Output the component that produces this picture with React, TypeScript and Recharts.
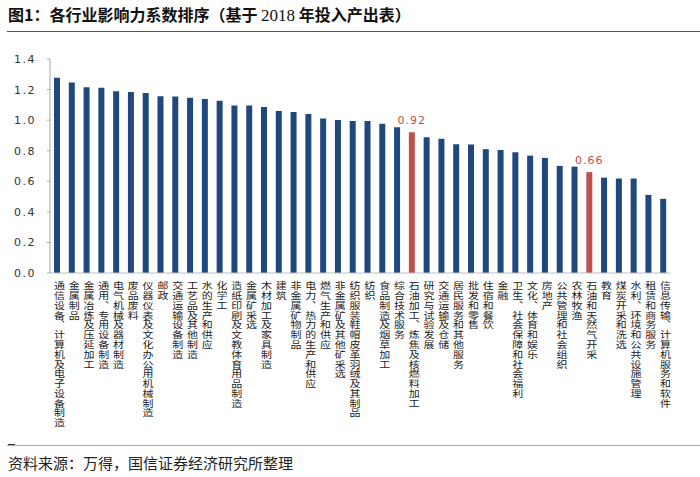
import React from "react";
import { BarChart, Bar, XAxis, YAxis, Cell, LabelList } from "recharts";

const categories = [
  "通信设备、计算机及电子设备制造",
  "金属制品",
  "金属冶炼及压延加工",
  "通用、专用设备制造",
  "电气机械及器材制造",
  "废品废料",
  "仪器仪表及文化办公用机械制造",
  "邮政",
  "交通运输设备制造",
  "工艺品及其他制造",
  "水的生产和供应",
  "化学工",
  "造纸印刷及文教体育用品制造",
  "金属矿采选",
  "木材加工及家具制造",
  "建筑",
  "非金属矿物制品",
  "电力、热力的生产和供应",
  "燃气生产和供应",
  "非金属矿及其他矿采选",
  "纺织服装鞋帽皮革羽绒及其制品",
  "纺织",
  "食品制造及烟草加工",
  "综合技术服务",
  "石油加工、炼焦及核燃料加工",
  "研究与试验发展",
  "交通运输及仓储",
  "居民服务和其他服务",
  "批发和零售",
  "住宿和餐饮",
  "金融",
  "卫生、社会保障和社会福利",
  "文化、体育和娱乐",
  "房地产",
  "公共管理和社会组织",
  "农林牧渔",
  "石油和天然气开采",
  "教育",
  "煤炭开采和洗选",
  "水利、环境和公共设施管理",
  "租赁和商务服务",
  "信息传输、计算机服务和软件",
];

const values = [
  1.278, 1.247, 1.215, 1.212, 1.189, 1.184, 1.178, 1.156, 1.154, 1.147,
  1.139, 1.127, 1.095, 1.095, 1.086, 1.06, 1.054, 1.041, 1.01, 1.001,
  0.995, 0.995, 0.977, 0.953, 0.92, 0.888, 0.879, 0.843, 0.84, 0.81,
  0.805, 0.79, 0.768, 0.753, 0.701, 0.696, 0.66, 0.624, 0.618, 0.618,
  0.511, 0.485,
];

const highlighted = ["石油加工、炼焦及核燃料加工", "石油和天然气开采"];

const yTicks = [0, 0.2, 0.4, 0.6, 0.8, 1.0, 1.2, 1.4];

const titleBefore = "图1：各行业影响力系数排序（基于 ";
const titleYear = "2018";
const titleAfter = " 年投入产出表）";
const sourceText = "资料来源：万得，国信证券经济研究所整理";

const BLUE = "#1f497d";
const RED = "#c0504d";
const CJK = "'Noto Sans CJK SC', 'Noto Sans', sans-serif";

const data = categories.map((name, i) => ({ name, value: values[i] }));

const XTick = (props: any) => {
  const { x, y, payload } = props;
  return (
    <text
      transform={`translate(${x + 2},${y + 8.5}) scale(1.22,1)`}
      x={0}
      y={0}
      fontSize={9}
      letterSpacing={0.77}
      fill="#222"
      fontFamily={CJK}
      style={{ writingMode: "vertical-rl" } as any}
    >
      {String(payload.value)}
    </text>
  );
};

const YTick = (props: any) => {
  const { y, payload } = props;
  return (
    <text
      x={36}
      y={y + 4}
      textAnchor="end"
      fontSize={11}
      fill="#333"
      letterSpacing={1.5}
      fontFamily="'DejaVu Sans', sans-serif"
    >
      {Number(payload.value).toFixed(1)}
    </text>
  );
};

const HighlightLabel = (props: any) => {
  const { x, y, width, value, index } = props;
  if (!highlighted.includes(categories[index])) return null;
  return (
    <text
      x={x + width / 2}
      y={y - 8}
      textAnchor="middle"
      fontSize={11}
      fill={RED}
      letterSpacing={1}
      fontFamily="'DejaVu Sans', sans-serif"
    >
      {Number(value).toFixed(2)}
    </text>
  );
};

export default function App() {
  return (
    <div
      style={{
        position: "absolute",
        left: 0,
        top: 0,
        width: 700,
        height: 477,
        background: "#fff",
        overflow: "hidden",
      }}
    >
      <div
        style={{
          position: "absolute",
          left: 8,
          top: 3,
          fontSize: 16,
          fontFamily: CJK,
          fontWeight: 700,
          color: "#111",
          whiteSpace: "nowrap",
          lineHeight: "22px",
        }}
      >
        {titleBefore}
        <span style={{ fontFamily: "'Liberation Serif', serif", fontWeight: 400, fontSize: 17 }}>
          {titleYear}
        </span>
        {titleAfter}
      </div>
      <div
        style={{
          position: "absolute",
          left: 7,
          top: 31,
          width: 693,
          height: 0,
          borderTop: "1.5px solid #555",
        }}
      />
      <div style={{ position: "absolute", left: 0, top: 0 }}>
        <BarChart
          width={700}
          height={477}
          data={data}
          margin={{ top: 59, right: 29, bottom: 0, left: 0 }}
          barSize={6}
        >
          <XAxis
            dataKey="name"
            interval={0}
            tick={<XTick />}
            tickLine={false}
            tickSize={0}
            tickMargin={0}
            height={204}
            axisLine={{ stroke: "#bfbfbf" }}
          />
          <YAxis
            domain={[0, 1.4]}
            ticks={yTicks}
            width={50}
            tick={<YTick />}
            tickSize={3}
            tickLine={{ stroke: "#a6a6a6" }}
            axisLine={{ stroke: "#a6a6a6" }}
          />
          <Bar dataKey="value" isAnimationActive={false}>
            {data.map((d) => (
              <Cell key={d.name} fill={highlighted.includes(d.name) ? RED : BLUE} />
            ))}
            <LabelList dataKey="value" content={<HighlightLabel />} />
          </Bar>
        </BarChart>
      </div>
      <div
        style={{
          position: "absolute",
          left: 7,
          top: 445,
          width: 693,
          height: 0,
          borderTop: "1px solid #aaa",
        }}
      />
      <div
        style={{
          position: "absolute",
          left: 8,
          top: 444,
          width: 7,
          height: 0,
          borderTop: "1.5px solid #333",
        }}
      />
      <div
        style={{
          position: "absolute",
          left: 8,
          top: 453,
          fontSize: 15,
          fontFamily: CJK,
          color: "#222",
          whiteSpace: "nowrap",
          lineHeight: "20px",
        }}
      >
        {sourceText}
      </div>
    </div>
  );
}
